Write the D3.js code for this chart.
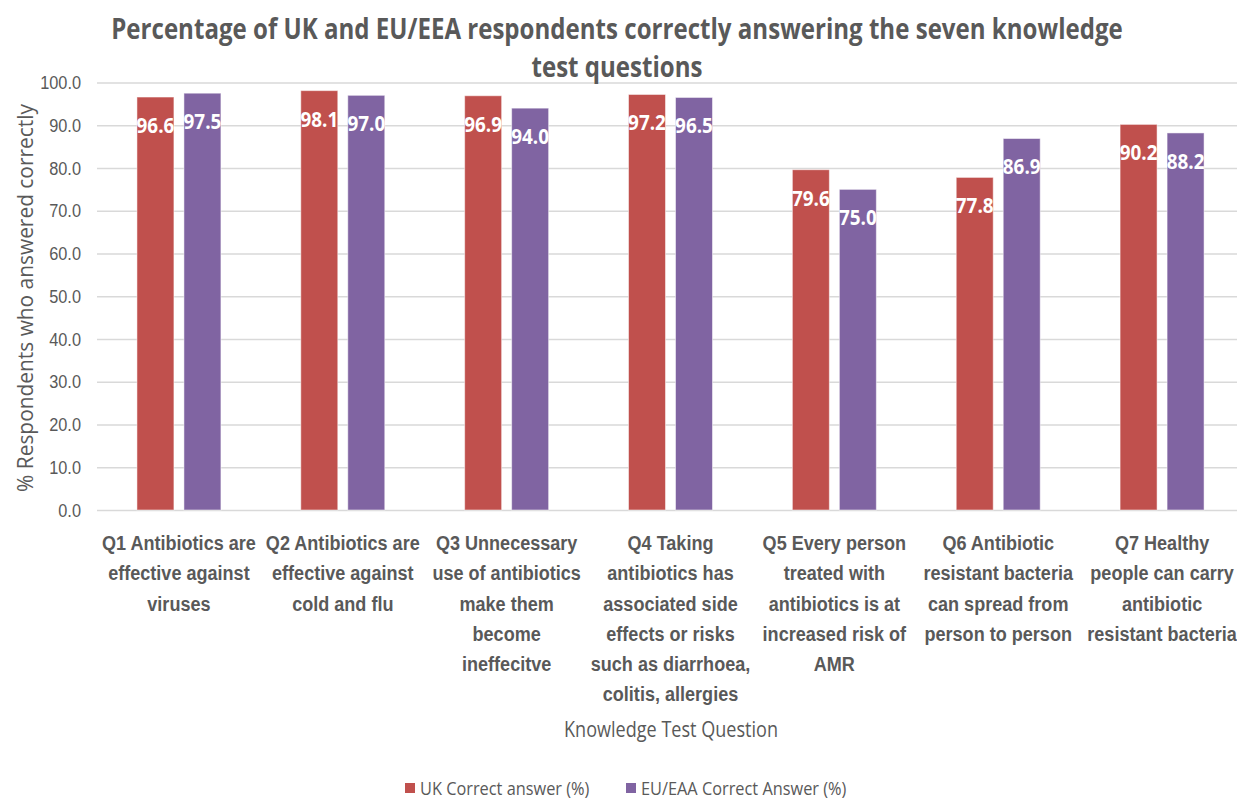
<!DOCTYPE html>
<html>
<head>
<meta charset="utf-8">
<script src="https://cdn.jsdelivr.net/npm/d3@7"></script>
<style>
  html, body { margin: 0; padding: 0; background: #fff; overflow: hidden; }
  svg { display: block; font-family: "Open Sans", "Noto Sans", sans-serif; }
</style>
</head>
<body>
<svg id="chart" width="1237" height="800"></svg>
<script>
// Knowledge test questions (line breaks mark the wrapped label lines)
const categories = [
  "Q1 Antibiotics are\neffective against\nviruses",
  "Q2 Antibiotics are\neffective against\ncold and flu",
  "Q3 Unnecessary\nuse of antibiotics\nmake them\nbecome\nineffecitve",
  "Q4 Taking\nantibiotics has\nassociated side\neffects or risks\nsuch as diarrhoea,\ncolitis, allergies",
  "Q5 Every person\ntreated with\nantibiotics is at\nincreased risk of\nAMR",
  "Q6 Antibiotic\nresistant bacteria\ncan spread from\nperson to person",
  "Q7 Healthy\npeople can carry\nantibiotic\nresistant bacteria"
];
const seriesNames = ["UK Correct answer (%)", "EU/EAA Correct Answer (%)"];
const ukValues = [96.6, 98.1, 96.9, 97.2, 79.6, 77.8, 90.2];
const euValues = [97.5, 97.0, 94.0, 96.5, 75.0, 86.9, 88.2];
const yTicks = [0, 10, 20, 30, 40, 50, 60, 70, 80, 90, 100];
const seriesColors = ["#C0504D", "#8064A2"];

const titleLines = [
  "Percentage of UK and EU/EEA respondents correctly answering the seven knowledge",
  "test questions"
];
const yTitle = "% Respondents who answered correctly";
const xTitle = "Knowledge Test Question";

// Horizontal squeeze applied to text for a narrow, condensed look
const SQUEEZE = 0.86;

const svg = d3.select("#chart");
const plot = { left: 97, right: 1244, top: 82.5, bottom: 510 };

// Move a text's x/y into a transform so it can be squeezed around its anchor
function condense(sel, extra = "", k = SQUEEZE) {
  sel.each(function () {
    const t = d3.select(this);
    const tx = +t.attr("x") || 0;
    const ty = +t.attr("y") || 0;
    t.attr("x", 0).attr("y", 0)
      .attr("transform", `translate(${tx},${ty}) ${extra} scale(${k},1)`);
  });
}

const x = d3.scaleBand()
  .domain(categories)
  .range([plot.left, plot.right])
  .paddingInner(0.4875)
  .paddingOuter(0.24375);

const xSub = d3.scaleBand()
  .domain([0, 1])
  .range([0, x.bandwidth()])
  .paddingInner(0.213);

const y = d3.scaleLinear().domain([0, 100]).range([plot.bottom, plot.top]);

// Gridlines and y tick labels
const yAxis = d3.axisLeft(y)
  .tickValues(yTicks)
  .tickSize(-(plot.right - plot.left))
  .tickPadding(16)
  .tickFormat(d3.format(".1f"));

const yG = svg.append("g")
  .attr("transform", `translate(${plot.left},0)`)
  .call(yAxis);
yG.select(".domain").remove();
yG.selectAll(".tick line")
  .attr("stroke", "#d9d9d9")
  .attr("stroke-width", 1.5);
yG.selectAll(".tick text")
  .attr("fill", "#595959")
  .style("font-family", "inherit")
  .style("font-size", "19px")
  .call(condense);

// Bars
const rows = categories.map((c, i) => ({ cat: c, vals: [ukValues[i], euValues[i]] }));

const groups = svg.append("g").selectAll("g")
  .data(rows)
  .join("g")
  .attr("transform", d => `translate(${x(d.cat)},0)`);

groups.selectAll("rect")
  .data(d => d.vals.map((v, s) => ({ v, s })))
  .join("rect")
  .attr("x", d => xSub(d.s))
  .attr("width", xSub.bandwidth())
  .attr("y", d => y(d.v))
  .attr("height", d => y(0) - y(d.v))
  .attr("fill", d => seriesColors[d.s])
  .attr("stroke", "#ffffff")
  .attr("stroke-opacity", 0.5)
  .attr("stroke-width", 1);

// Value labels just inside the top of each bar
groups.selectAll("text.val")
  .data(d => d.vals.map((v, s) => ({ v, s })))
  .join("text")
  .attr("class", "val")
  .attr("x", d => xSub(d.s) + xSub.bandwidth() / 2)
  .attr("y", d => y(d.v) + 28)
  .attr("dy", "0.36em")
  .attr("text-anchor", "middle")
  .attr("fill", "#ffffff")
  .style("font-weight", "bold")
  .style("font-size", "22px")
  .text(d => d3.format(".1f")(d.v))
  .call(condense);

// Category labels
const xAxis = d3.axisBottom(x).tickSize(0).tickFormat("");
const xG = svg.append("g")
  .attr("transform", `translate(0,${plot.bottom})`)
  .call(xAxis);
xG.select(".domain").remove();

xG.selectAll(".tick").each(function (d) {
  const t = d3.select(this).append("text")
    .attr("text-anchor", "middle")
    .attr("fill", "#595959")
    .style("font-weight", "bold")
    .style("font-size", "21px");
  d.split("\n").forEach((line, i) => {
    t.append("tspan")
      .attr("x", 0)
      .attr("y", 40 + i * 30.3)
      .text(line);
  });
  condense(t);
});

// Title
const title = svg.append("text")
  .attr("x", 617)
  .attr("y", 0)
  .attr("text-anchor", "middle")
  .attr("fill", "#595959")
  .style("font-weight", "bold")
  .style("font-size", "28px");
title.selectAll("tspan")
  .data(titleLines)
  .join("tspan")
  .attr("x", 0)
  .attr("y", (d, i) => 39 + i * 38)
  .text(d => d);
condense(title);

// Axis titles
svg.append("text")
  .attr("x", 25)
  .attr("y", 298)
  .attr("dy", "0.35em")
  .attr("text-anchor", "middle")
  .attr("fill", "#595959")
  .style("font-size", "22px")
  .text(yTitle)
  .call(condense, "rotate(-90)", 0.95);

svg.append("text")
  .attr("x", 671)
  .attr("y", 737)
  .attr("text-anchor", "middle")
  .attr("fill", "#595959")
  .style("font-size", "21px")
  .text(xTitle)
  .call(condense);

// Legend
const legendX = [405, 626];
const legend = svg.append("g").selectAll("g")
  .data(seriesNames)
  .join("g")
  .attr("transform", (d, i) => `translate(${legendX[i]},788)`);
legend.append("rect")
  .attr("x", 0).attr("y", -5)
  .attr("width", 10).attr("height", 10)
  .attr("fill", (d, i) => seriesColors[i]);
legend.append("text")
  .attr("x", 15)
  .attr("y", 0)
  .attr("dy", "0.35em")
  .attr("fill", "#595959")
  .style("font-size", "19px")
  .text(d => d)
  .call(condense);
</script>
</body>
</html>
